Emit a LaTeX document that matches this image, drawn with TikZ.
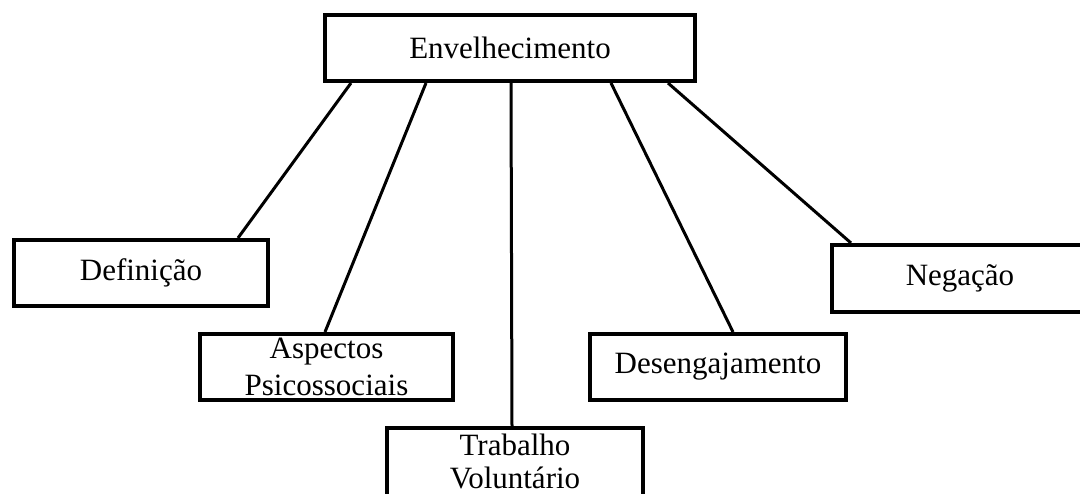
\documentclass[tikz,border=0pt]{standalone}
\usepackage{fontspec}
\setmainfont{Liberation Serif}
\begin{document}
\begin{tikzpicture}[x=1pt,y=-1pt,
  box/.style={draw=black,line width=4pt,fill=white,inner sep=0pt,align=center,
    font=\fontsize{31}{37}\selectfont},
  lbl/.style={align=center,inner sep=0pt,font=\fontsize{31}{33}\selectfont},
  conn/.style={line width=3pt}]
\useasboundingbox (0,0) rectangle (1080,494);
\node[box,minimum width=370pt,minimum height=66pt] (env) at (510,48) {Envelhecimento};
\node[box,minimum width=254pt,minimum height=66pt] (def) at (141,273) {Definição};
\node[box,minimum width=253pt,minimum height=66pt] (asp) at (326.5,367) {Aspectos\\Psicossociais};
\node[box,minimum width=256pt,minimum height=72pt,anchor=north] (tra) at (515,426) {};
\node[lbl] (tratext) at (515,461) {Trabalho\\Voluntário};
\node[box,minimum width=256pt,minimum height=66pt] (des) at (718,367) {Desengajamento};
\node[box,minimum width=256pt,minimum height=67pt] (neg) at (960,278.5) {Negação};
\draw[conn] ([xshift=28pt]env.south west) -- ([xshift=226pt]def.north west);
\draw[conn] ([xshift=103pt]env.south west) -- ([xshift=127pt]asp.north west);
\draw[conn] ([xshift=188pt]env.south west) -- ([xshift=127pt]tra.north west);
\draw[conn] ([xshift=288pt]env.south west) -- ([xshift=145pt]des.north west);
\draw[conn] ([xshift=345pt]env.south west) -- ([xshift=21pt]neg.north west);
\end{tikzpicture}
\end{document}
